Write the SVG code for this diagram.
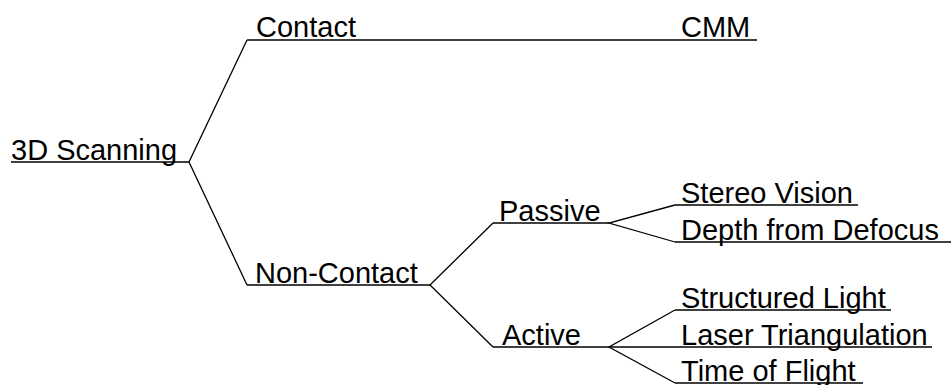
<svg xmlns="http://www.w3.org/2000/svg" width="951" height="385" viewBox="0 0 951 385">
<style>
text{font-family:"Liberation Sans",Arial,sans-serif;font-size:29px;fill:#000}
line,polyline{stroke:#000;stroke-width:1.3;fill:none}
</style>
<rect width="951" height="385" fill="#fff"/>
<g id="connectors">
<polyline points="247,40 189,162 247,285"/>
<polyline points="493,223 430,285 493,347"/>
<polyline points="675,205 609,223 675,242"/>
<polyline points="675,310 609,347 675,383"/>
<line x1="609" y1="347" x2="675" y2="347"/>
</g>
<g id="n-3d"><line x1="11" y1="162" x2="189" y2="162"/><text x="11" y="159.5">3D Scanning</text></g>
<g id="n-contact"><line x1="247" y1="40" x2="680" y2="40"/><text x="256" y="37">Contact</text></g>
<g id="n-cmm"><line x1="680" y1="40" x2="757" y2="40"/><text x="681" y="37">CMM</text></g>
<g id="n-noncontact"><line x1="247" y1="285" x2="430" y2="285"/><text x="255" y="282.5">Non-Contact</text></g>
<g id="n-passive"><line x1="493" y1="223" x2="609" y2="223"/><text x="499" y="221">Passive</text></g>
<g id="n-active"><line x1="493" y1="347" x2="609" y2="347"/><text x="502" y="344.5">Active</text></g>
<g id="n-stereo"><line x1="675" y1="205" x2="858" y2="205"/><text x="681" y="202.5">Stereo Vision</text></g>
<g id="n-depth"><line x1="675" y1="242" x2="951" y2="242"/><text x="681" y="239.5">Depth from Defocus</text></g>
<g id="n-structured"><line x1="675" y1="310" x2="891" y2="310"/><text x="681" y="307.5">Structured Light</text></g>
<g id="n-laser"><line x1="675" y1="347" x2="932" y2="347"/><text x="681" y="344.5">Laser Triangulation</text></g>
<g id="n-tof"><line x1="675" y1="383" x2="863" y2="383"/><text x="681" y="380.5">Time of Flight</text></g>
</svg>
